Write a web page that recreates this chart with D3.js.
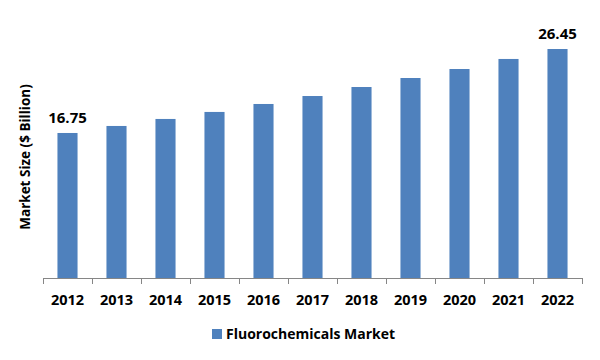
<!DOCTYPE html>
<html><head><meta charset="utf-8">
<script src="https://cdn.jsdelivr.net/npm/d3@7"></script>
<style>body{margin:0;background:#fff}svg{display:block}text{font-family:"Open Sans",sans-serif;font-weight:bold;fill:#000}</style>
</head><body><svg id="c" width="600" height="360"></svg>
<script>
const years = ["2012","2013","2014","2015","2016","2017","2018","2019","2020","2021","2022"];
const values = [16.75,17.56,18.37,19.18,20.10,21.02,22.06,23.10,24.14,25.30,26.45];
const labelled = ["2012","2022"];
const seriesName = "Fluorochemicals Market";
const yTitle = "Market Size ($ Billion)";

const svg = d3.select("#c");
const plotLeft = 43, plotRight = 582, plotTop = 0, base = 278;
const x = d3.scaleBand().domain(years).range([plotLeft, plotRight]).paddingInner(0.59).paddingOuter(0.295);
const y = d3.scaleLinear().domain([0, 32.11]).range([base, plotTop]);
const color = "#4f81bd";

svg.selectAll("rect.bar").data(years).join("rect").attr("class","bar")
  .attr("x", d => x(d)).attr("width", x.bandwidth())
  .attr("y", (d,i) => y(values[i])).attr("height", (d,i) => base - y(values[i]))
  .attr("fill", color);

svg.selectAll("text.vl").data(years.filter(d => labelled.includes(d))).join("text").attr("class","vl")
  .attr("x", d => x(d) + x.bandwidth()/2).attr("y", d => y(values[years.indexOf(d)]) - 10)
  .attr("text-anchor","middle").style("font-size","15px")
  .text(d => values[years.indexOf(d)].toFixed(2));

// axis
const g = svg.append("g");
g.append("line").attr("x1", plotLeft).attr("x2", plotRight).attr("y1", base+0.5).attr("y2", base+0.5).attr("stroke","#868686");
const edges = years.map(d => x(d) - x.step()*x.paddingInner()/2).concat([plotRight]);
g.selectAll("line.tk").data(edges).join("line").attr("class","tk")
  .attr("x1", d => Math.round(d)+0.5).attr("x2", d => Math.round(d)+0.5)
  .attr("y1", base).attr("y2", base+6).attr("stroke","#868686");
g.selectAll("text.xl").data(years).join("text").attr("class","xl")
  .attr("x", d => x(d) + x.bandwidth()/2).attr("y", 305)
  .attr("text-anchor","middle").style("font-size","14.5px").text(d => d);

svg.append("text").attr("transform","translate(30,157) rotate(-90)")
  .attr("text-anchor","middle").style("font-size","13.5px").text(yTitle);

// legend
svg.append("rect").attr("x",212).attr("y",329).attr("width",10).attr("height",10).attr("fill",color);
svg.append("text").attr("x",226).attr("y",339).style("font-size","14px").text(seriesName);
</script></body></html>
